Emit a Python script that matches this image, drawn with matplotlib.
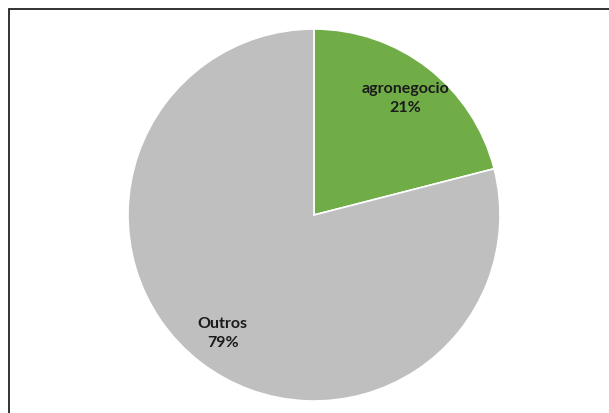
import matplotlib
matplotlib.use("Agg")
import matplotlib.pyplot as plt
from matplotlib.patches import Rectangle

# data
categories = ["agronegocio", "Outros"]
shares = [21, 79]
colours = ["#70AD47", "#BFBFBF"]

W, H = 609, 414
fig = plt.figure(figsize=(W / 100, H / 100), dpi=100)

# frame (only top and left edges visible in the crop)
fig.add_artist(Rectangle((8.5 / W, -0.1), 1.2, (H - 9.5) / H + 0.1,
                         transform=fig.transFigure, fill=False,
                         edgecolor="#222222", linewidth=1.3))

cx, cy, r = 314, 216, 186
ax = fig.add_axes([(cx - r) / W, (H - cy - r) / H, 2 * r / W, 2 * r / H])

labels_iter = iter(categories)


def fmt(pct):
    return f"{next(labels_iter)}\n{pct:.0f}%"


wedges, texts, autotexts = ax.pie(
    shares, colors=colours, startangle=90, counterclock=False,
    autopct=fmt, pctdistance=0.8, radius=1,
    wedgeprops=dict(edgecolor="white", linewidth=1.2),
    textprops=dict(fontsize=11.5, fontweight="bold", color="#1a1a1a",
                   family=["Lato", "DejaVu Sans"], linespacing=1.4))
ax.set_xlim(-1, 1)
ax.set_ylim(-1, 1)
ax.set_aspect("equal")
ax.axis("off")

fig.savefig("out.png", dpi=100)
